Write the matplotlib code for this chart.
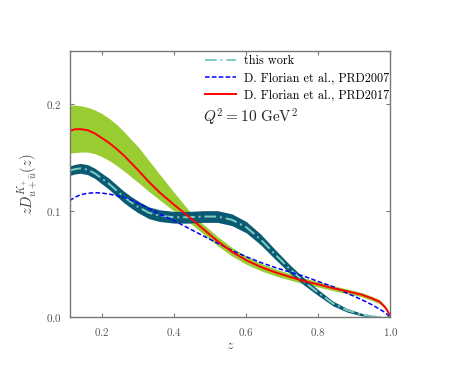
import matplotlib
matplotlib.use("Agg")
import matplotlib.pyplot as plt

plt.rcParams["font.family"] = "serif"
plt.rcParams["font.serif"] = ["cmr10", "DejaVu Serif"]
plt.rcParams["mathtext.fontset"] = "cm"
plt.rcParams["axes.formatter.use_mathtext"] = True

# z grid the curves were read on
z = [0.11, 0.125, 0.14, 0.16, 0.18, 0.20, 0.22, 0.24, 0.26, 0.28, 0.30, 0.33,
     0.36, 0.40, 0.44, 0.48, 0.52, 0.56, 0.60, 0.64, 0.68, 0.72, 0.76, 0.80,
     0.84, 0.88, 0.92, 0.95, 0.97, 0.985, 1.00]

# this work: central value and band edges
this_work = [0.1375, 0.1390, 0.1397, 0.1385, 0.1350, 0.1300, 0.1250, 0.1190,
             0.1130, 0.1080, 0.1035, 0.0980, 0.0953, 0.0938, 0.0938, 0.0945,
             0.0945, 0.0915, 0.0845, 0.0730, 0.0590, 0.0455, 0.0335, 0.0230,
             0.0130, 0.0065, 0.0025, 0.0010, 0.0003, 0.0, 0.0]
this_work_hi = [0.1420, 0.1435, 0.1443, 0.1432, 0.1398, 0.1350, 0.1302, 0.1243,
                0.1184, 0.1134, 0.1090, 0.1035, 0.1008, 0.0993, 0.0993, 0.1000,
                0.1000, 0.0970, 0.0898, 0.0780, 0.0635, 0.0495, 0.0368, 0.0258,
                0.0152, 0.0082, 0.0037, 0.0017, 0.0007, 0.0002, 0.0]
this_work_lo = [0.1330, 0.1345, 0.1351, 0.1338, 0.1302, 0.1250, 0.1198, 0.1137,
                0.1076, 0.1026, 0.0980, 0.0925, 0.0898, 0.0883, 0.0883, 0.0890,
                0.0890, 0.0860, 0.0792, 0.0680, 0.0545, 0.0415, 0.0302, 0.0202,
                0.0108, 0.0048, 0.0013, 0.0003, 0.0, 0.0, 0.0]

# D. Florian et al., PRD2007
prd2007 = [0.1095, 0.1125, 0.1150, 0.1163, 0.1169, 0.1165, 0.1155, 0.1142,
           0.1125, 0.1100, 0.1070, 0.1020, 0.0968, 0.0906, 0.0835, 0.0765,
           0.0695, 0.0628, 0.0568, 0.0514, 0.0467, 0.0425, 0.0385, 0.0335,
           0.0288, 0.0225, 0.0165, 0.0115, 0.0075, 0.0045, 0.0]

# D. Florian et al., PRD2017: central value and band edges
prd2017 = [0.1748, 0.1764, 0.1765, 0.1755, 0.1725, 0.1680, 0.1635, 0.1580,
           0.1520, 0.1450, 0.1380, 0.1270, 0.1170, 0.1055, 0.0945, 0.0830,
           0.0715, 0.0615, 0.0535, 0.0472, 0.0422, 0.0380, 0.0340, 0.0308,
           0.0273, 0.0243, 0.0212, 0.0175, 0.0145, 0.0095, 0.0015]
prd2017_hi = [0.1990, 0.1990, 0.1985, 0.1970, 0.1945, 0.1910, 0.1865, 0.1810,
              0.1745, 0.1670, 0.1600, 0.1470, 0.1340, 0.1170, 0.1005, 0.0875,
              0.0758, 0.0655, 0.0573, 0.0507, 0.0455, 0.0410, 0.0368, 0.0333,
              0.0296, 0.0265, 0.0232, 0.0195, 0.0163, 0.0110, 0.0025]
prd2017_lo = [0.1540, 0.1545, 0.1550, 0.1550, 0.1535, 0.1506, 0.1470, 0.1425,
              0.1375, 0.1320, 0.1265, 0.1180, 0.1100, 0.0995, 0.0895, 0.0785,
              0.0672, 0.0575, 0.0497, 0.0437, 0.0389, 0.0350, 0.0312, 0.0283,
              0.0250, 0.0220, 0.0192, 0.0155, 0.0127, 0.0080, 0.0]

x_ticks = [0.2, 0.4, 0.6, 0.8, 1.0]
y_ticks = [0.0, 0.1, 0.2]

fig = plt.figure(figsize=(4.61, 3.85), dpi=100)
ax = fig.add_axes([0.151, 0.176, 0.696, 0.692])

ax.fill_between(z, prd2017_lo, prd2017_hi, color="#9acd32", lw=0)
ax.fill_between(z, this_work_lo, this_work_hi, color="#0b5a73", lw=0)
ax.plot(z, this_work, color="#7fcdc1", lw=1.4, ls=(0, (6, 2, 1, 2)),
        label="this work")
ax.plot(z, prd2007, color="#0000ff", lw=1.1, ls=(0, (3, 1.5)),
        label="D. Florian et al., PRD2007")
ax.plot(z, prd2017, color="#ff0000", lw=1.4, label="D. Florian et al., PRD2017")

ax.set_xlim(0.11, 1.0)
ax.set_ylim(0.0, 0.25)
ax.set_xticks(x_ticks)
ax.set_yticks(y_ticks)
ax.tick_params(direction="in", top=True, right=True, length=3, width=0.8,
               colors="#777777", labelcolor="#555555", labelsize=8, pad=6)
for s in ax.spines.values():
    s.set_color("#777777")
    s.set_linewidth(1.0)

ax.set_xlabel(r"$z$", fontsize=10, color="#444444", labelpad=2)
ax.set_ylabel(r"$zD_{u+\bar{u}}^{K_{+}}(z)$", fontsize=10.5, color="#444444",
              labelpad=4)

ax.legend(loc="upper left", bbox_to_anchor=(0.39, 1.02), frameon=False,
          fontsize=8.8, handlelength=2.6, handletextpad=0.6, labelspacing=0.4,
          borderaxespad=0.4)
ax.text(0.415, 0.73, r"$Q^2 = 10\ \mathrm{GeV}^2$", transform=ax.transAxes,
        fontsize=11, color="#222222")

fig.savefig("out.png", dpi=100)
